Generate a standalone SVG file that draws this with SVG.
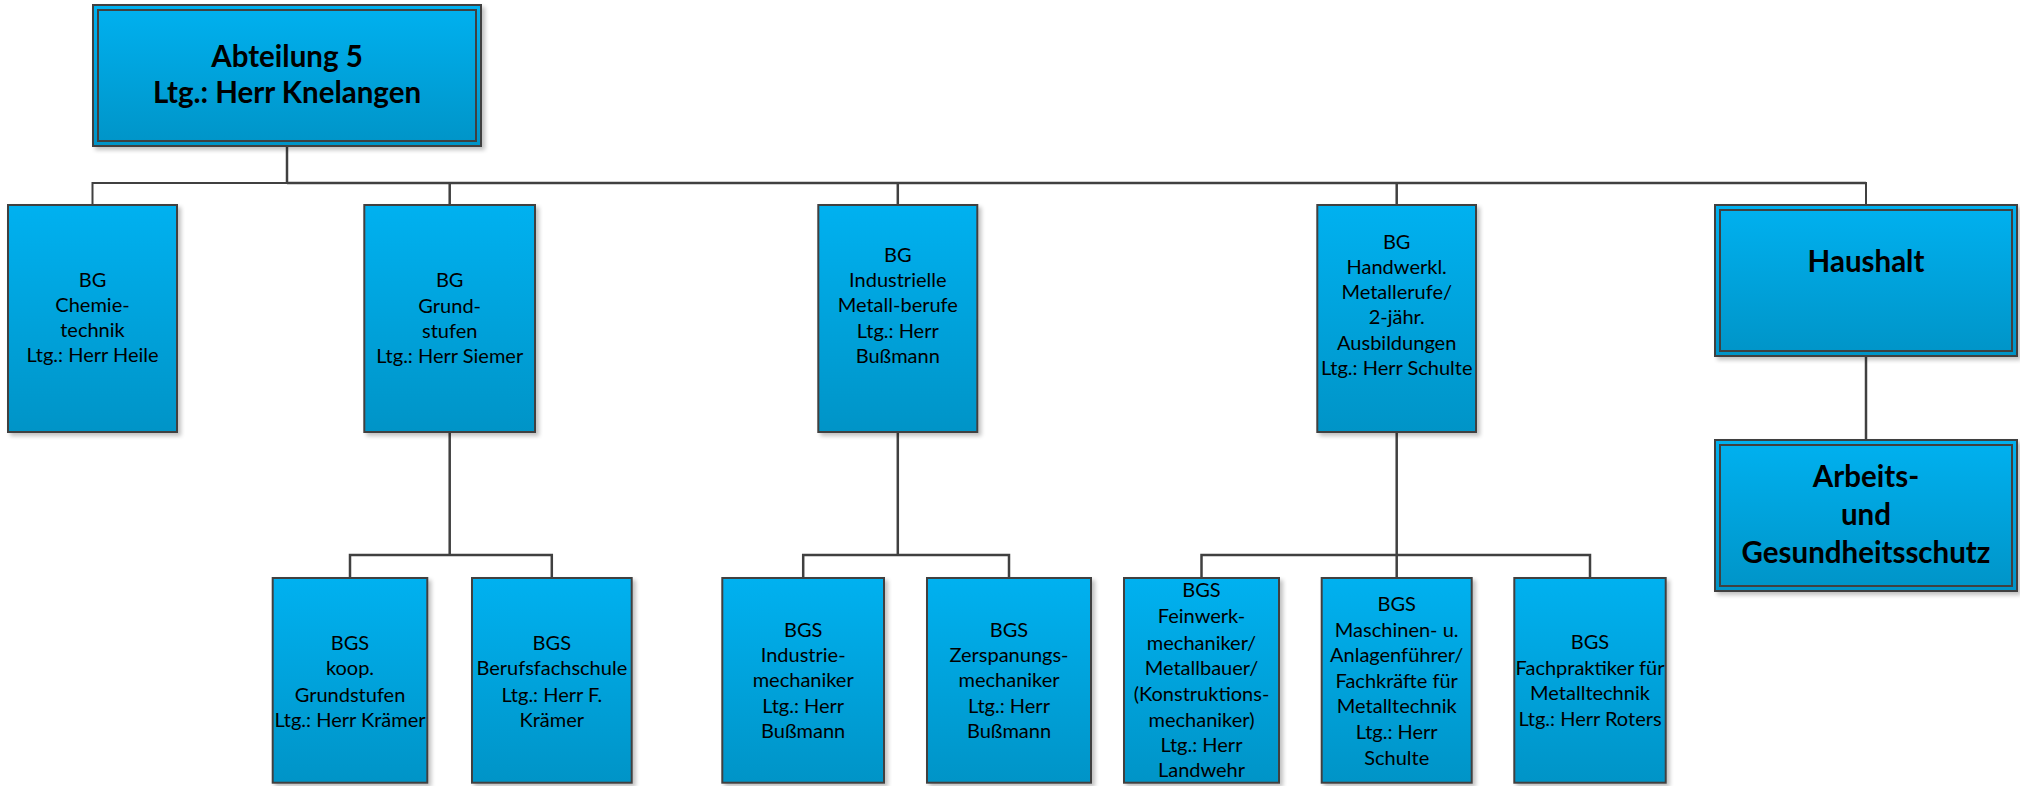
<svg xmlns="http://www.w3.org/2000/svg" width="2020" height="786" viewBox="0 0 2020 786">
<style>
  .box { fill: url(#blue); stroke: #404040; stroke-width: 2; filter: url(#shadow); }
  .inner { fill: none; stroke: #404040; stroke-width: 2; }
  .conn { fill: none; stroke: #404040; stroke-width: 2.5; }
  .t { font-family: Lato, "Liberation Sans", sans-serif; font-size: 20px; fill: #000; text-anchor: middle; }
  .tb { font-family: Lato, "Liberation Sans", sans-serif; font-size: 29.5px; font-weight: bold; fill: #000; text-anchor: middle; }
</style>
<defs>
  <linearGradient id="blue" x1="0" y1="0" x2="0" y2="1">
    <stop offset="0" stop-color="#00B1F0"/>
    <stop offset="1" stop-color="#0094C7"/>
  </linearGradient>
  <filter id="shadow" x="-5%" y="-5%" width="115%" height="115%">
    <feGaussianBlur in="SourceAlpha" stdDeviation="2"/>
    <feOffset dx="3" dy="3" result="b"/>
    <feComponentTransfer><feFuncA type="linear" slope="0.25"/></feComponentTransfer>
    <feMerge><feMergeNode/><feMergeNode in="SourceGraphic"/></feMerge>
  </filter>
</defs>
<rect width="2020" height="786" fill="#fff"/>

<g id="connectors">
  <path class="conn" d="M287,146 V183"/>
  <path class="conn" d="M92.5,205 V183 H1866 V205" style="stroke-width:2"/>
  <path class="conn" d="M287,183 H1866"/>
  <path class="conn" d="M449.7,183 V205"/>
  <path class="conn" d="M897.8,183 V205"/>
  <path class="conn" d="M1396.7,183 V205"/>
  <path class="conn" d="M1866,356 V440"/>
  <path class="conn" d="M449.7,432 V555 M350,578 V555 H551.8 V578"/>
  <path class="conn" d="M897.8,432 V555 M803.2,578 V555 H1009 V578"/>
  <path class="conn" d="M1396.7,432 V578 M1201.5,578 V555 H1590 V578"/>
</g>

<g id="abteilung5">
  <rect class="box" x="93" y="5" width="388" height="141"/>
  <rect class="inner" x="98" y="10" width="378" height="131"/>
  <text class="tb"><tspan x="287" y="66.7">Abteilung 5</tspan><tspan x="287" y="103.3">Ltg.: Herr Knelangen</tspan></text>
</g>

<g id="bg-chemie">
  <rect class="box" x="8" y="205" width="169" height="227"/>
  <text class="t"><tspan x="92.5" y="287">BG</tspan><tspan x="92.5" y="312">Chemie-</tspan><tspan x="92.5" y="337">technik</tspan><tspan x="92.5" y="362">Ltg.: Herr Heile</tspan></text>
</g>

<g id="bg-grundstufen">
  <rect class="box" x="364.3" y="205" width="170.7" height="227"/>
  <text class="t"><tspan x="449.7" y="287">BG</tspan><tspan x="449.7" y="312.5">Grund-</tspan><tspan x="449.7" y="338">stufen</tspan><tspan x="449.7" y="363">Ltg.: Herr Siemer</tspan></text>
</g>

<g id="bg-industrielle">
  <rect class="box" x="818.3" y="205" width="159" height="227"/>
  <text class="t"><tspan x="897.8" y="261.7">BG</tspan><tspan x="897.8" y="286.7">Industrielle</tspan><tspan x="897.8" y="312">Metall-berufe</tspan><tspan x="897.8" y="337.5">Ltg.: Herr</tspan><tspan x="897.8" y="363">Bußmann</tspan></text>
</g>

<g id="bg-handwerkl">
  <rect class="box" x="1317.3" y="205" width="158.7" height="227"/>
  <text class="t"><tspan x="1396.7" y="249">BG</tspan><tspan x="1396.7" y="274">Handwerkl.</tspan><tspan x="1396.7" y="299.3">Metallerufe/</tspan><tspan x="1396.7" y="324">2-jähr.</tspan><tspan x="1396.7" y="350">Ausbildungen</tspan><tspan x="1396.7" y="375">Ltg.: Herr Schulte</tspan></text>
</g>

<g id="haushalt">
  <rect class="box" x="1715" y="205" width="302" height="151"/>
  <rect class="inner" x="1720" y="210" width="292" height="141"/>
  <text class="tb"><tspan x="1866" y="271.7">Haushalt</tspan></text>
</g>

<g id="arbeitsschutz">
  <rect class="box" x="1715" y="440" width="302" height="151"/>
  <rect class="inner" x="1720" y="445" width="292" height="141"/>
  <text class="tb"><tspan x="1866" y="487.3">Arbeits-</tspan><tspan x="1866" y="525">und</tspan><tspan x="1866" y="563.3">Gesundheitsschutz</tspan></text>
</g>

<g id="bgs-koop">
  <rect class="box" x="272.7" y="578" width="154.6" height="204.7"/>
  <text class="t"><tspan x="350" y="650">BGS</tspan><tspan x="350" y="675">koop.</tspan><tspan x="350" y="701.5">Grundstufen</tspan><tspan x="350" y="726.7">Ltg.: Herr Krämer</tspan></text>
</g>

<g id="bgs-berufsfachschule">
  <rect class="box" x="472" y="578" width="159.7" height="204.7"/>
  <text class="t"><tspan x="551.8" y="650">BGS</tspan><tspan x="551.8" y="675">Berufsfachschule</tspan><tspan x="551.8" y="701.5">Ltg.: Herr F.</tspan><tspan x="551.8" y="726.7">Krämer</tspan></text>
</g>

<g id="bgs-industrie">
  <rect class="box" x="722.3" y="578" width="161.7" height="204.7"/>
  <text class="t"><tspan x="803.2" y="636.7">BGS</tspan><tspan x="803.2" y="661.7">Industrie-</tspan><tspan x="803.2" y="687.3">mechaniker</tspan><tspan x="803.2" y="713">Ltg.: Herr</tspan><tspan x="803.2" y="738.3">Bußmann</tspan></text>
</g>

<g id="bgs-zerspanung">
  <rect class="box" x="927" y="578" width="164" height="204.7"/>
  <text class="t"><tspan x="1009" y="636.7">BGS</tspan><tspan x="1009" y="661.7">Zerspanungs-</tspan><tspan x="1009" y="687.3">mechaniker</tspan><tspan x="1009" y="713">Ltg.: Herr</tspan><tspan x="1009" y="738.3">Bußmann</tspan></text>
</g>

<g id="bgs-feinwerk">
  <rect class="box" x="1124" y="578" width="155" height="204.7"/>
  <text class="t"><tspan x="1201.5" y="597.3">BGS</tspan><tspan x="1201.5" y="623.3">Feinwerk-</tspan><tspan x="1201.5" y="650">mechaniker/</tspan><tspan x="1201.5" y="675">Metallbauer/</tspan><tspan x="1201.5" y="700.7">(Konstruktions-</tspan><tspan x="1201.5" y="726.7">mechaniker)</tspan><tspan x="1201.5" y="752.3">Ltg.: Herr</tspan><tspan x="1201.5" y="777.3">Landwehr</tspan></text>
</g>

<g id="bgs-maschinen">
  <rect class="box" x="1321.7" y="578" width="150" height="204.7"/>
  <text class="t"><tspan x="1396.7" y="610.7">BGS</tspan><tspan x="1396.7" y="636.7">Maschinen- u.</tspan><tspan x="1396.7" y="661.7">Anlagenführer/</tspan><tspan x="1396.7" y="688">Fachkräfte für</tspan><tspan x="1396.7" y="713.3">Metalltechnik</tspan><tspan x="1396.7" y="739">Ltg.: Herr</tspan><tspan x="1396.7" y="764.5">Schulte</tspan></text>
</g>

<g id="bgs-fachpraktiker">
  <rect class="box" x="1514.3" y="578" width="151.4" height="204.7"/>
  <text class="t"><tspan x="1590" y="649.3">BGS</tspan><tspan x="1590" y="675">Fachpraktiker für</tspan><tspan x="1590" y="700">Metalltechnik</tspan><tspan x="1590" y="726">Ltg.: Herr Roters</tspan></text>
</g>
</svg>
